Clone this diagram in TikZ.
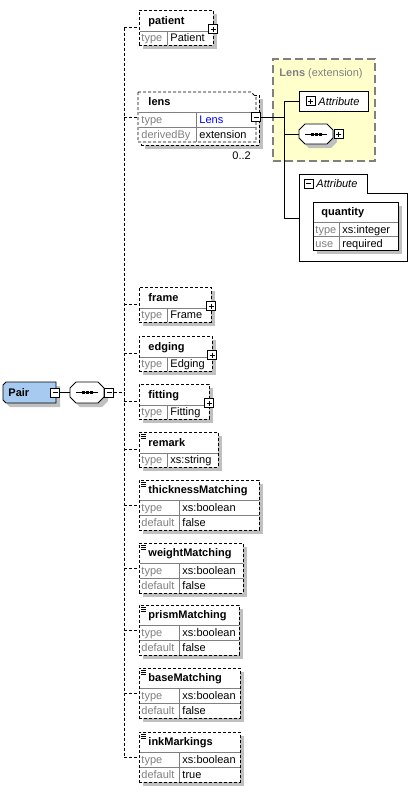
\documentclass[tikz,border=0pt]{standalone}
\usepackage{fontspec}
\setmainfont{Liberation Sans}
\usetikzlibrary{shadows}
\definecolor{pairblue}{RGB}{166,202,240}
\definecolor{extyellow}{RGB}{255,255,204}
\definecolor{labelgray}{RGB}{128,128,128}
\definecolor{shadowgray}{RGB}{192,192,192}
\tikzset{
  boxshadow/.style={drop shadow={opacity=1,fill=shadowgray,shadow xshift=4pt,shadow yshift=-4pt}},
  elbox/.style={draw,dash pattern=on 3pt off 2pt,fill=white,inner sep=0,outer sep=0,anchor=north west},
  solidbox/.style={draw,fill=white,inner sep=0,outer sep=0},
  hold/.style={inner sep=0,outer sep=0},
  sepline/.style={labelgray},
  conn/.style={dash pattern=on 3pt off 2pt},
  elname/.style={font=\bfseries,anchor=base west,inner sep=0},
  lbl/.style={text=labelgray,anchor=base west,inner sep=0},
  val/.style={anchor=base west,inner sep=0},
  plusbox/.style={draw,fill=white,minimum size=9,inner sep=0,solid,
    path picture={\draw ([xshift=2pt]path picture bounding box.west) -- ([xshift=-2pt]path picture bounding box.east);
      \draw ([yshift=-2pt]path picture bounding box.north) -- ([yshift=2pt]path picture bounding box.south);}},
  minusbox/.style={draw,fill=white,minimum size=9,inner sep=0,solid,
    path picture={\draw ([xshift=2pt]path picture bounding box.west) -- ([xshift=-2pt]path picture bounding box.east);}}
}
\begin{document}
\begin{tikzpicture}[x=1pt,y=-1pt,line width=0.9pt]
\fontsize{11}{13}\selectfont
\useasboundingbox (0,0) rectangle (417,793);
% root element and sequence
\node[hold,minimum width=53,minimum height=21] (pair) at (29.5,392.5) {};
\draw[fill=pairblue,boxshadow] ([xshift=3pt]pair.north west) -- (pair.north east) -- (pair.south east)
  -- ([xshift=3pt]pair.south west) -- ([yshift=3pt]pair.south west) -- ([yshift=-3pt]pair.north west) -- cycle;
\node[elname] (pair-name) at (8,396.5) {Pair};
\node[minusbox] (pair-minus) at ([xshift=-1pt]pair.east) {};
\node[hold,minimum width=34,minimum height=21] (seq) at (87,392.5) {};
\node[hold,minimum width=34,minimum height=20] (extseq) at (316,134) {};
\foreach \sq in {seq}{
  \draw[fill=white,boxshadow] ([xshift=6pt]\sq.north west) -- ([xshift=-6pt]\sq.north east) -- ([yshift=-6pt]\sq.north east)
    -- ([yshift=6pt]\sq.south east) -- ([xshift=-6pt]\sq.south east) -- ([xshift=6pt]\sq.south west)
    -- ([yshift=6pt]\sq.south west) -- ([yshift=-6pt]\sq.north west) -- cycle;
  \draw ([xshift=-11pt]\sq.center) -- ([xshift=11pt]\sq.center);
  \foreach \q in {-4,0,4} \fill ([xshift=\q pt]\sq.center) +(-1.5pt,-1.5pt) rectangle +(1.5pt,1.5pt);
}
\node[minusbox] (seq-minus) at ([xshift=5pt]seq.east) {};
\draw (pair-minus.east) -- (seq.west);
\coordinate (spine) at (124,392.5);
% elements with type only
\foreach \nm/\vl/\yy/\xr in {patient/Patient/10/213,frame/Frame/287/211,edging/Edging/336/212,fitting/Fitting/384/209,remark/xs:string/432/218}{
  \node[elbox,boxshadow,minimum width=\xr-139,minimum height=35] (\nm) at (139,\yy) {};
  \draw[sepline] (139.5,\yy+21) -- (\xr-0.5,\yy+21);
  \draw[sepline] (167,\yy+21) -- (167,\yy+34.5);
  \node[elname] (\nm-name) at (148,\yy+14) {\nm};
  \node[lbl] (\nm-type) at (141,\yy+31.5) {type};
  \node[val] (\nm-val) at (170,\yy+31.5) {\vl};
}
\foreach \nm in {patient,frame,edging,fitting}
  \node[plusbox] (\nm-plus) at ([yshift=-1.5pt]\nm.east) {};
\foreach \k in {0,2,4} \draw[line width=0.6pt] (141,434+\k) -- (146,434+\k);
% elements with type and default
\foreach \nm/\fv/\yy/\xr in {thicknessMatching/false/480/259,weightMatching/false/543/243,prismMatching/false/605/239,baseMatching/false/668/240,inkMarkings/true/732/240}{
  \node[elbox,boxshadow,minimum width=\xr-139,minimum height=50] (\nm) at (139,\yy) {};
  \draw[sepline] (139.5,\yy+20) -- (\xr-0.5,\yy+20);
  \draw[sepline] (139.5,\yy+35) -- (\xr-0.5,\yy+35);
  \draw[sepline] (179,\yy+20) -- (179,\yy+49.5);
  \foreach \k in {0,2,4} \draw[line width=0.6pt] (141,\yy+2+\k) -- (146,\yy+2+\k);
  \node[elname] (\nm-name) at (148,\yy+13.5) {\nm};
  \node[lbl] (\nm-type) at (141,\yy+31) {type};
  \node[val] (\nm-val) at (182,\yy+31) {xs:boolean};
  \node[lbl] (\nm-dflt) at (141,\yy+46) {default};
  \node[val] (\nm-dval) at (182,\yy+46) {\fv};
}
% lens, 0..2
\node[elbox,boxshadow,minimum width=118,minimum height=50] (lens-back) at (141,95) {};
\node[hold,minimum width=118,minimum height=50] (lens) at (197,117) {};
\draw[fill=white,dash pattern=on 3pt off 2pt] (lens.north west) -- ([xshift=-5pt]lens.north east) -- ([yshift=-5pt]lens.north east)
  -- (lens.south east) -- (lens.south west) -- cycle;
\draw[sepline] (138.5,112) -- (255.5,112);
\draw[sepline] (138.5,127) -- (255.5,127);
\draw[sepline] (196,112) -- (196,141.5);
\node[elname] (lens-name) at (148,105.5) {lens};
\node[lbl] (lens-type) at (141,123) {type};
\node[val,text=blue] (lens-val) at (199,123) {Lens};
\node[lbl] (lens-drv) at (141,138) {derivedBy};
\node[val] (lens-dval) at (199,138) {extension};
\node[minusbox] (lens-minus) at (lens.east) {};
\node[val] (lens-occ) at (232,159) {0..2};
% spine
\draw[conn] (seq-minus.east) -- (spine);
\draw[conn] (patient.west -| spine) -- (inkMarkings.west -| spine);
\foreach \nm in {patient,lens,frame,edging,fitting,remark,thicknessMatching,weightMatching,prismMatching,baseMatching,inkMarkings}
  \draw[conn] (\nm.west -| spine) -- (\nm.west);
% Lens (extension)
\node[draw=labelgray,fill=extyellow,dash pattern=on 8pt off 4pt,line width=1.5pt,inner sep=0,anchor=north west,
  minimum width=102,minimum height=102] (lensext) at (272,58) {};
\node[lbl] (lensext-title) at (279,76) {\textbf{Lens} (extension)};
\node[solidbox,anchor=north west,minimum width=69,minimum height=20] (attr) at (299,91) {};
\node[plusbox] (attr-plus) at (310.5,101) {};
\node[val,font=\itshape] (attr-text) at (318,105) {Attribute};
\foreach \sq in {extseq}{
  \draw[fill=white,boxshadow] ([xshift=6pt]\sq.north west) -- ([xshift=-6pt]\sq.north east) -- ([yshift=-6pt]\sq.north east)
    -- ([yshift=6pt]\sq.south east) -- ([xshift=-6pt]\sq.south east) -- ([xshift=6pt]\sq.south west)
    -- ([yshift=6pt]\sq.south west) -- ([yshift=-6pt]\sq.north west) -- cycle;
  \draw ([xshift=-11pt]\sq.center) -- ([xshift=11pt]\sq.center);
  \foreach \q in {-4,0,4} \fill ([xshift=\q pt]\sq.center) +(-1.5pt,-1.5pt) rectangle +(1.5pt,1.5pt);
}
\node[plusbox] (extseq-plus) at ([xshift=5.5pt]extseq.east) {};
% attribute group
\draw[fill=white] (299,174) -- (367,174) -- (367,193) -- (407,193) -- (407,261) -- (299,261) -- cycle;
\coordinate (attrgrp) at (299,218);
\node[minusbox] (attrgrp-minus) at (308.5,183.5) {};
\node[val,font=\itshape] (attrgrp-text) at (316,187.5) {Attribute};
\node[solidbox,boxshadow,anchor=north west,minimum width=85,minimum height=48] (quantity) at (313,202) {};
\draw[sepline] (313.5,222) -- (397.5,222);
\draw[sepline] (313.5,236) -- (397.5,236);
\draw[sepline] (339,222) -- (339,249.5);
\node[elname] (quantity-name) at (321,215.5) {quantity};
\node[lbl] (quantity-type) at (315,233) {type};
\node[val] (quantity-val) at (342,233) {xs:integer};
\node[lbl] (quantity-use) at (315,247) {use};
\node[val] (quantity-uval) at (342,247) {required};
% connectors of the extension
\coordinate (extbus) at (284,117);
\draw (lens-minus.east) -- (lens-minus.east -| extbus);
\draw (attr.west -| extbus) |- (attrgrp);
\draw (attr.west -| extbus) -- (attr.west);
\draw (extseq.west -| extbus) -- (extseq.west);
\end{tikzpicture}
\end{document}
